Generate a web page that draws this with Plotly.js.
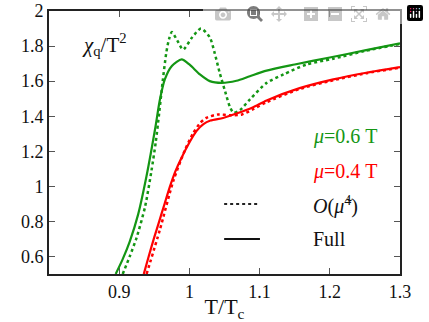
<!DOCTYPE html>
<html>
<head>
<script src="https://cdn.plot.ly/plotly-3.0.1.min.js"></script>
<style>
  html, body { margin: 0; padding: 0; background: #fff; }
</style>
</head>
<body>
<div id="plot" style="width:429px;height:322px;"></div>
<script>
// mu = 0.6 T, full result
var t06Full = [0.895, 0.905, 0.915, 0.927, 0.939, 0.951, 0.958, 0.965, 0.975, 0.989, 1.0, 1.015, 1.029, 1.046, 1.067, 1.086, 1.11, 1.15, 1.2, 1.25, 1.3];
var chi06Full = [0.5, 0.585, 0.685, 0.84, 1.06, 1.324, 1.495, 1.61, 1.686, 1.724, 1.695, 1.638, 1.60, 1.59, 1.602, 1.628, 1.66, 1.695, 1.735, 1.775, 1.815];

// mu = 0.6 T, O(mu^4)
var t06Ord4 = [0.905, 0.915, 0.925, 0.937, 0.946, 0.952, 0.957, 0.962, 0.967, 0.971, 0.975, 0.983, 0.991, 1.004, 1.0165, 1.029, 1.036, 1.043, 1.051, 1.058, 1.063, 1.072, 1.086, 1.11, 1.134, 1.167, 1.205, 1.25, 1.3];
var chi06Ord4 = [0.5, 0.60, 0.71, 0.886, 1.09, 1.25, 1.42, 1.6, 1.76, 1.84, 1.88, 1.83, 1.78, 1.85, 1.90, 1.85, 1.76, 1.65, 1.54, 1.45, 1.42, 1.435, 1.495, 1.59, 1.638, 1.695, 1.728, 1.772, 1.812];

// mu = 0.4 T, full result
var t04Full = [0.935, 0.942, 0.95, 0.957, 0.965, 0.972, 0.98, 0.989, 1.0, 1.01, 1.02, 1.03, 1.048, 1.067, 1.09, 1.11, 1.157, 1.205, 1.252, 1.3];
var chi04Full = [0.5, 0.6, 0.71, 0.8, 0.905, 0.995, 1.085, 1.165, 1.25, 1.315, 1.355, 1.375, 1.39, 1.415, 1.45, 1.49, 1.56, 1.61, 1.648, 1.68];

// mu = 0.4 T, O(mu^4)
var t04Ord4 = [0.939, 0.958, 0.977, 0.994, 1.005, 1.015, 1.024, 1.041, 1.058, 1.075, 1.091, 1.11, 1.157, 1.205, 1.252, 1.3];
var chi04Ord4 = [0.5, 0.753, 1.03, 1.21, 1.30, 1.36, 1.39, 1.41, 1.405, 1.41, 1.44, 1.48, 1.555, 1.605, 1.645, 1.677];

var xTicks = [0.9, 1, 1.1, 1.2, 1.3];
var yTicks = [0.6, 0.8, 1, 1.2, 1.4, 1.6, 1.8, 2];

var green = "#149614";
var red = "#ff0000";
var MU = "\u03bc", CHI = "\u03c7", TILDE = "\u0303";

var traces = [
  { x: t06Full, y: chi06Full, mode: "lines", type: "scatter",
    line: { color: green, width: 2.2, shape: "spline", smoothing: 0.7 } },
  { x: t06Ord4, y: chi06Ord4, mode: "lines", type: "scatter",
    line: { color: green, width: 2.5, dash: "dot", shape: "spline", smoothing: 0.7 } },
  { x: t04Full, y: chi04Full, mode: "lines", type: "scatter",
    line: { color: red, width: 2.2, shape: "spline", smoothing: 0.7 } },
  { x: t04Ord4, y: chi04Ord4, mode: "lines", type: "scatter",
    line: { color: red, width: 2.5, dash: "dot", shape: "spline", smoothing: 0.7 } }
];

var plotLayout = {
  width: 429, height: 322,
  margin: { l: 49, r: 29, t: 11, b: 48 },
  showlegend: false,
  font: { family: "Liberation Serif", size: 18, color: "#111" },
  xaxis: {
    range: [0.8, 1.3], tickvals: xTicks, ticktext: ["0.9", "1", "1.1", "1.2", "1.3"],
    showgrid: false, zeroline: false,
    showline: true, linecolor: "#222", linewidth: 2, mirror: "ticks",
    ticks: "inside", ticklen: 6, tickcolor: "#555",
    title: { text: "T/T<sub>c</sub>", standoff: 0 }
  },
  yaxis: {
    range: [0.5, 2], tickvals: yTicks, ticktext: ["0.6", "0.8", "1", "1.2", "1.4", "1.6", "1.8", "2"],
    showgrid: false, zeroline: false,
    showline: true, linecolor: "#222", linewidth: 2, mirror: "ticks",
    ticks: "inside", ticklen: 6, tickcolor: "#555"
  },
  shapes: [
    { type: "line", xref: "paper", yref: "paper", x0: 0.499, x1: 0.601, y0: 0.266, y1: 0.266,
      line: { color: "#222", width: 2, dash: "dot" } },
    { type: "line", xref: "paper", yref: "paper", x0: 0.499, x1: 0.601, y0: 0.133, y1: 0.133,
      line: { color: "#111", width: 2 } }
  ],
  annotations: [
    { xref: "paper", yref: "paper", x: 0.088, y: 0.871, xanchor: "left", yanchor: "middle", showarrow: false,
      text: "<i>" + CHI + "</i><sub>q</sub>/T<sup>2</sup>", font: { size: 21 } },
    { xref: "paper", yref: "paper", x: 0.746, y: 0.521, xanchor: "left", yanchor: "middle", showarrow: false,
      text: "<i>" + MU + "</i>=0.6 T", font: { size: 20, color: green } },
    { xref: "paper", yref: "paper", x: 0.746, y: 0.388, xanchor: "left", yanchor: "middle", showarrow: false,
      text: "<i>" + MU + "</i>=0.4 T", font: { size: 20, color: red } },
    { xref: "paper", yref: "paper", x: 0.746, y: 0.262, xanchor: "left", yanchor: "middle", showarrow: false,
      text: "<i>O</i>(<i>" + MU + TILDE + "</i><sup>4</sup>)", font: { size: 20 } },
    { xref: "paper", yref: "paper", x: 0.746, y: 0.133, xanchor: "left", yanchor: "middle", showarrow: false,
      text: "Full", font: { size: 20 } }
  ]
};

Plotly.newPlot("plot", traces, plotLayout);
</script>
</body>
</html>
